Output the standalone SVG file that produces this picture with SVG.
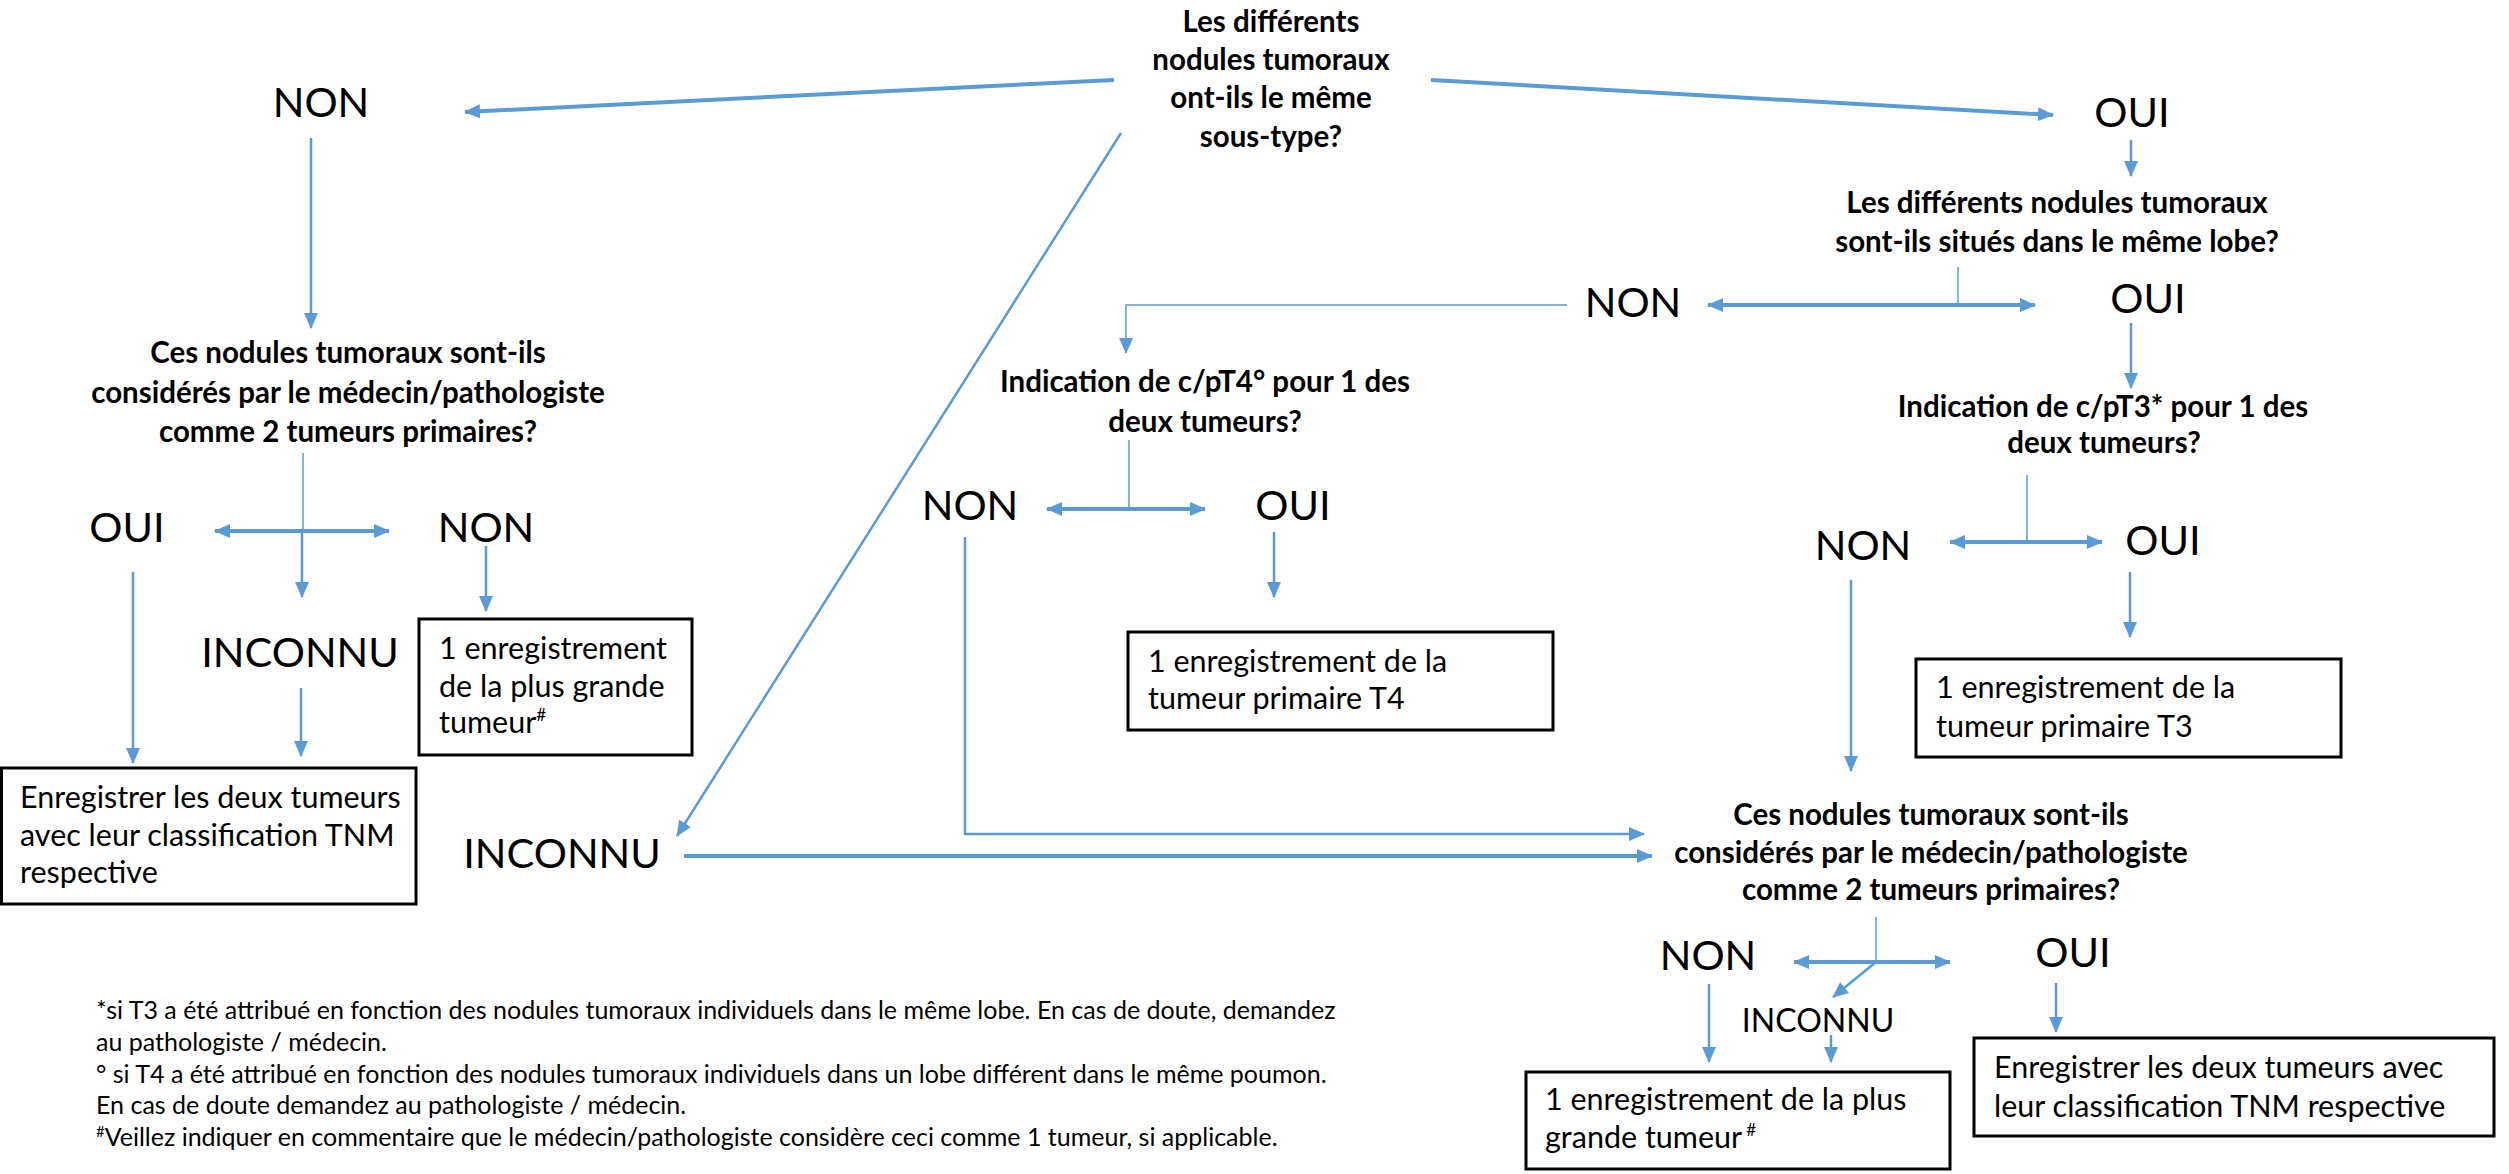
<svg xmlns="http://www.w3.org/2000/svg" width="2509" height="1174" viewBox="0 0 2509 1174">
<defs>
<style>
text{font-family:Lato,"Open Sans","Liberation Sans",sans-serif;fill:#000}
.q{font-weight:bold;font-size:29.5px;text-anchor:middle}
.lbl{font-size:41.5px;text-anchor:middle}
.sm{font-size:32px;text-anchor:middle}
.bx{font-size:30.5px}
.fn{font-size:25px}
.box{fill:#fff;stroke:#000;stroke-width:3}
.c{fill:none;stroke:#5B9BD5}
.w1{stroke-width:1.5}
.w2{stroke-width:2.5}
.w3{stroke-width:4}
.a{marker-end:url(#ah)}
.d{marker-start:url(#ah);marker-end:url(#ah)}
</style>
<marker id="ah" markerUnits="userSpaceOnUse" markerWidth="16" markerHeight="14" viewBox="0 0 16 14" refX="15" refY="7" orient="auto-start-reverse">
<path d="M0,0 L16,7 L0,14 z" fill="#5B9BD5"/>
</marker>
</defs>
<rect width="2509" height="1174" fill="#fff"/>

<g id="connectors">
<line class="c w3 a" x1="1114" y1="80" x2="465" y2="112"/>
<line class="c w3 a" x1="1431" y1="80" x2="2053" y2="115"/>
<line class="c w2 a" x1="1121" y1="133" x2="677" y2="836"/>
<line class="c w2 a" x1="311" y1="138" x2="311" y2="328"/>
<line class="c w1" x1="303" y1="453" x2="303" y2="531"/>
<line class="c w2 a" x1="302" y1="531" x2="302" y2="597"/>
<line class="c w3 d" x1="215" y1="531" x2="389" y2="531"/>
<line class="c w2 a" x1="133" y1="572" x2="133" y2="763"/>
<line class="c w2 a" x1="486" y1="546" x2="486" y2="611"/>
<line class="c w2 a" x1="301" y1="688" x2="301" y2="756"/>
<line class="c w2 a" x1="2131" y1="140" x2="2131" y2="176"/>
<line class="c w1" x1="1958" y1="267" x2="1958" y2="305"/>
<line class="c w3 d" x1="1708" y1="305" x2="2035" y2="305"/>
<polyline class="c w1 a" points="1567,305 1126,305 1126,353"/>
<line class="c w2 a" x1="2131" y1="323" x2="2131" y2="388"/>
<line class="c w1" x1="1129" y1="440" x2="1129" y2="509"/>
<line class="c w3 d" x1="1047" y1="509" x2="1205" y2="509"/>
<line class="c w2 a" x1="1274" y1="532" x2="1274" y2="597"/>
<polyline class="c w2 a" points="965,537 965,834 1644,834"/>
<line class="c w3 a" x1="684" y1="856" x2="1652" y2="856"/>
<line class="c w1" x1="2027" y1="475" x2="2027" y2="542"/>
<line class="c w3 d" x1="1950" y1="542" x2="2102" y2="542"/>
<line class="c w2 a" x1="1851" y1="580" x2="1851" y2="771"/>
<line class="c w2 a" x1="2130" y1="572" x2="2130" y2="637"/>
<line class="c w1" x1="1876" y1="917" x2="1876" y2="962"/>
<line class="c w3 d" x1="1794" y1="962" x2="1950" y2="962"/>
<line class="c w2 a" x1="1876" y1="962" x2="1833" y2="997"/>
<line class="c w2 a" x1="1709" y1="984" x2="1709" y2="1062"/>
<line class="c w2 a" x1="1831" y1="1035" x2="1831" y2="1062"/>
<line class="c w2 a" x1="2056" y1="983" x2="2056" y2="1032"/>
</g>

<g id="q-subtype">
<text class="q" x="1271" y="32">Les différents</text>
<text class="q" x="1271" y="70">nodules tumoraux</text>
<text class="q" x="1271" y="108">ont-ils le même</text>
<text class="q" x="1271" y="147">sous-type?</text>
</g>
<g id="non-subtype"><text class="lbl" x="321" y="117">NON</text></g>
<g id="oui-subtype"><text class="lbl" x="2132" y="127">OUI</text></g>
<g id="inconnu-subtype"><text class="lbl" x="562" y="868">INCONNU</text></g>

<g id="q-left-primary">
<text class="q" x="348" y="363">Ces nodules tumoraux sont-ils</text>
<text class="q" x="348" y="403">considérés par le médecin/pathologiste</text>
<text class="q" x="348" y="442">comme 2 tumeurs primaires?</text>
</g>
<g id="oui-left"><text class="lbl" x="127" y="542">OUI</text></g>
<g id="non-left"><text class="lbl" x="486" y="542">NON</text></g>
<g id="inconnu-left"><text class="lbl" x="300" y="667">INCONNU</text></g>
<g id="box-left-one">
<rect class="box" x="419" y="619" width="273" height="136"/>
<text class="bx" x="439" y="659">1 enregistrement</text>
<text class="bx" x="439" y="697">de la plus grande</text>
<text class="bx" x="439" y="733">tumeur<tspan font-size="17" dy="-12">#</tspan></text>
</g>
<g id="box-left-two">
<rect class="box" x="1.5" y="768" width="414.5" height="136"/>
<text class="bx" x="20" y="808">Enregistrer les deux tumeurs</text>
<text class="bx" x="20" y="846">avec leur classification TNM</text>
<text class="bx" x="20" y="883">respective</text>
</g>

<g id="q-lobe">
<text class="q" x="2057" y="213">Les différents nodules tumoraux</text>
<text class="q" x="2057" y="252">sont-ils situés dans le même lobe?</text>
</g>
<g id="non-lobe"><text class="lbl" x="1633" y="317">NON</text></g>
<g id="oui-lobe"><text class="lbl" x="2148" y="313">OUI</text></g>

<g id="q-t4">
<text class="q" x="1205" y="392">Indication de c/pT4° pour 1 des</text>
<text class="q" x="1205" y="432">deux tumeurs?</text>
</g>
<g id="non-t4"><text class="lbl" x="970" y="520">NON</text></g>
<g id="oui-t4"><text class="lbl" x="1293" y="520">OUI</text></g>
<g id="box-t4">
<rect class="box" x="1128" y="632" width="425" height="98"/>
<text class="bx" x="1148" y="672">1 enregistrement de la</text>
<text class="bx" x="1148" y="709">tumeur primaire T4</text>
</g>

<g id="q-t3">
<text class="q" x="2103" y="417">Indication de c/pT3* pour 1 des</text>
<text class="q" x="2104" y="453">deux tumeurs?</text>
</g>
<g id="non-t3"><text class="lbl" x="1863" y="560">NON</text></g>
<g id="oui-t3"><text class="lbl" x="2163" y="555">OUI</text></g>
<g id="box-t3">
<rect class="box" x="1916" y="659" width="425" height="98"/>
<text class="bx" x="1936" y="698">1 enregistrement de la</text>
<text class="bx" x="1936" y="737">tumeur primaire T3</text>
</g>

<g id="q-right-primary">
<text class="q" x="1931" y="825">Ces nodules tumoraux sont-ils</text>
<text class="q" x="1931" y="863">considérés par le médecin/pathologiste</text>
<text class="q" x="1931" y="900">comme 2 tumeurs primaires?</text>
</g>
<g id="non-right"><text class="lbl" x="1708" y="970">NON</text></g>
<g id="oui-right"><text class="lbl" x="2073" y="967">OUI</text></g>
<g id="inconnu-right"><text class="sm" x="1818" y="1032">INCONNU</text></g>
<g id="box-right-one">
<rect class="box" x="1526" y="1072" width="424" height="97"/>
<text class="bx" x="1545" y="1110">1 enregistrement de la plus</text>
<text class="bx" x="1545" y="1148">grande tumeur<tspan font-size="17" dx="4" dy="-12">#</tspan></text>
</g>
<g id="box-right-two">
<rect class="box" x="1974" y="1038" width="520" height="98"/>
<text class="bx" x="1994" y="1078">Enregistrer les deux tumeurs avec</text>
<text class="bx" x="1994" y="1117">leur classification TNM respective</text>
</g>

<g id="footnotes">
<text class="fn" x="96" y="1019">*si T3 a été attribué en fonction des nodules tumoraux individuels dans le même lobe. En cas de doute, demandez</text>
<text class="fn" x="96" y="1051">au pathologiste / médecin.</text>
<text class="fn" x="96" y="1083">° si T4 a été attribué en fonction des nodules tumoraux individuels dans un lobe différent dans le même poumon.</text>
<text class="fn" x="96" y="1114">En cas de doute demandez au pathologiste / médecin.</text>
<text class="fn" x="96" y="1146"><tspan font-size="15" dy="-9">#</tspan><tspan dy="9">Veillez indiquer en commentaire que le médecin/pathologiste considère ceci comme 1 tumeur, si applicable.</tspan></text>
</g>
</svg>
